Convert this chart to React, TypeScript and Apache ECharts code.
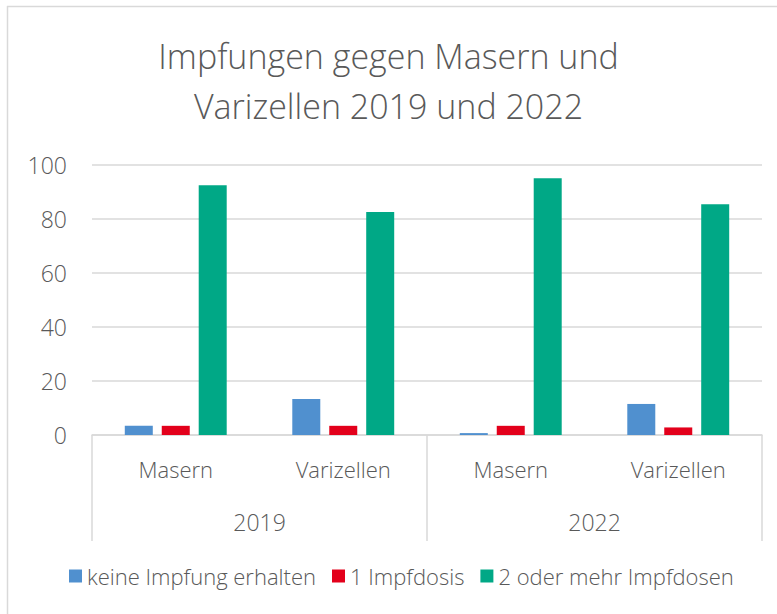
import React, { useEffect, useRef } from "react";
import * as echarts from "echarts";

const categories = ["Masern", "Varizellen", "Masern", "Varizellen"];
const years = ["2019", "2022"];
const seriesNames = ["keine Impfung erhalten", "1 Impfdosis", "2 oder mehr Impfdosen"];
const keineImpfung = [3.4, 13.3, 0.7, 11.5];
const eineDosis = [3.4, 3.4, 3.4, 2.8];
const zweiDosen = [92.5, 82.6, 95.1, 85.5];
const colors = ["#5090CF", "#E3001B", "#00A886"];

const FONT = "'Open Sans'";
const TXT = "#595959";
const LINE = "#D9D9D9";

export default function App() {
  const ref = useRef<HTMLDivElement>(null);
  useEffect(() => {
    if (!ref.current) return;
    const chart = echarts.init(ref.current, undefined, { renderer: "svg" });
    const values = [keineImpfung, eineDosis, zweiDosen];
    chart.setOption({
      animation: false,
      backgroundColor: "#fff",
      title: {
        text: "Impfungen gegen Masern und\nVarizellen 2019 und 2022",
        left: "center",
        top: 26,
        textStyle: { fontFamily: FONT, fontSize: 34, fontWeight: 300, color: TXT, lineHeight: 50 },
      },
      legend: {
        bottom: 22,
        left: 64,
        itemWidth: 13,
        itemHeight: 13,
        itemGap: 16,
        icon: "rect",
        textStyle: { fontFamily: FONT, fontSize: 22, fontWeight: 300, color: TXT },
        data: seriesNames,
      },
      grid: { left: 92, right: 15, top: 165, bottom: 179, containLabel: false },
      xAxis: [
        {
          type: "category",
          data: categories,
          axisLine: { show: true, lineStyle: { color: LINE, width: 1.5 } },
          axisTick: { show: false },
          axisLabel: { margin: 23, fontFamily: FONT, fontSize: 22, fontWeight: 300, color: TXT },
        },
        {
          type: "category",
          data: years,
          position: "bottom",
          axisLine: { show: false },
          axisTick: { show: true, length: 106, alignWithLabel: false, lineStyle: { color: LINE, width: 1.5 } },
          axisLabel: { margin: 75, fontFamily: FONT, fontSize: 23, fontWeight: 300, color: TXT },
        },
      ],
      yAxis: {
        type: "value",
        min: 0,
        max: 100,
        interval: 20,
        axisLine: { show: false },
        axisTick: { show: false },
        splitLine: { lineStyle: { color: LINE, width: 1.5 } },
        axisLabel: { margin: 25, fontFamily: FONT, fontSize: 23, fontWeight: 300, color: TXT },
      },
      series: seriesNames.map((name, i) => ({
        name,
        type: "bar",
        xAxisIndex: 0,
        data: values[i],
        barWidth: 28,
        barGap: "32%",
        itemStyle: { color: colors[i] },
      })),
      graphic: [
        { type: "line", shape: { x1: 7, y1: 6.5, x2: 777, y2: 6.5 }, style: { stroke: LINE, lineWidth: 1.5 } },
        { type: "line", shape: { x1: 7.5, y1: 6, x2: 7.5, y2: 614 }, style: { stroke: LINE, lineWidth: 1.5 } },
      ],
    });
    return () => chart.dispose();
  }, []);
  return <div ref={ref} style={{ position: "fixed", left: 0, top: 0, width: 777, height: 614 }} />;
}
